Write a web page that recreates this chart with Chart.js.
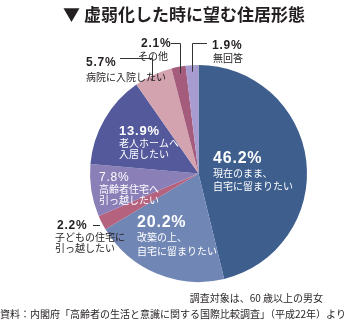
<!DOCTYPE html>
<html>
<head>
<meta charset="utf-8">
<script src="https://cdn.jsdelivr.net/npm/chart.js@4.4.1/dist/chart.umd.min.js"></script>
<style>
  html, body { margin: 0; padding: 0; background: #fff; }
  #wrap { width: 350px; height: 325px; position: relative; }
</style>
</head>
<body>
<div id="wrap"><canvas id="pie"></canvas></div>
<script>
// 回答（時計回り、12時の位置から）
const categories = [
    "現在のまま、自宅に留まりたい",
    "改築の上、自宅に留まりたい",
    "子どもの住宅に引っ越したい",
    "高齢者住宅へ引っ越したい",
    "老人ホームへ入居したい",
    "病院に入院したい",
    "その他",
    "無回答"
];
const shares = [46.2, 20.2, 2.2, 7.8, 13.9, 5.7, 2.1, 1.9];
const sliceColors = ["#3e5f8e", "#7086b5", "#b5627f", "#8b7fb8", "#54599c", "#d3a4b0", "#a45b7c", "#a89bd0"];

const JP = '"Noto Sans CJK JP", "Noto Sans", sans-serif';
const NUM = '"Liberation Sans", Arial, sans-serif';

function txt(c, s, x, y, font, color, align) {
    c.font = font;
    c.fillStyle = color;
    c.textAlign = align || "left";
    c.textBaseline = "middle";
    c.fillText(s, x, y);
}

// 数字の後ろの「%」を少し間をあけて描く
function pct(c, v, x, y, size, bold, color) {
    const w = bold ? "bold " : "";
    c.font = w + size + "px " + NUM;
    c.fillStyle = color;
    c.textAlign = "left";
    c.textBaseline = "middle";
    let cx = x;
    for (const ch of v.toFixed(1) + "%") {
        c.fillText(ch, cx, y);
        cx += c.measureText(ch).width + 0.8;
    }
    return cx;
}

const labelsPlugin = {
    id: "labels",
    afterDraw(chart) {
        const c = chart.ctx;
        const arcs = chart.getDatasetMeta(0).data;
        c.save();

        // タイトル
        txt(c, "▼ 虚弱化した時に望む住居形態", 184, 15, "bold 17px " + JP, "#231f20", "center");

        // 円の中のラベル
        pct(c, shares[0], 213, 159, 16, true, "#fff");
        txt(c, "現在のまま、", 213, 173, "10px " + JP, "#fff");
        txt(c, "自宅に留まりたい", 213, 186, "10px " + JP, "#fff");

        pct(c, shares[1], 137, 223, 16, true, "#fff");
        txt(c, "改築の上、", 137, 237, "10px " + JP, "#fff");
        txt(c, "自宅に留まりたい", 137, 251, "10px " + JP, "#fff");

        pct(c, shares[3], 99, 178, 12, false, "#fff");
        txt(c, "高齢者住宅へ", 99, 189, "10px " + JP, "#fff");
        txt(c, "引っ越したい", 99, 200, "10px " + JP, "#fff");

        pct(c, shares[4], 119, 131, 13, true, "#fff");
        txt(c, "老人ホームへ", 119, 143, "10px " + JP, "#fff");
        txt(c, "入居したい", 119, 154, "10px " + JP, "#fff");

        // 円の外のラベル
        const ink = "#231f20";
        pct(c, shares[2], 57, 226, 12, true, ink);
        txt(c, "子どもの住宅に", 55, 237, "10px " + JP, ink);
        txt(c, "引っ越したい", 55, 248, "10px " + JP, ink);

        pct(c, shares[5], 86, 63, 12, true, ink);
        txt(c, "病院に入院したい", 86, 77, "10px " + JP, ink);

        pct(c, shares[6], 141, 44, 12, true, ink);
        txt(c, "その他", 138, 56, "10px " + JP, ink);

        pct(c, shares[7], 212, 46, 12, true, ink);
        txt(c, "無回答", 213, 58, "10px " + JP, ink);

        // 引き出し線（小さい扇形の中点へ）
        const mid = (i, f) => {
            const a = arcs[i];
            const ang = (a.startAngle + a.endAngle) / 2;
            const r = a.outerRadius * f;
            return [a.x + Math.cos(ang) * r, a.y + Math.sin(ang) * r];
        };
        c.strokeStyle = "#333";
        c.lineWidth = 1;
        const p6 = mid(6, 0.94);
        const p7 = mid(7, 0.94);
        const p5 = mid(5, 0.93);
        c.beginPath();
        c.moveTo(171, 43.5); c.lineTo(Math.round(p6[0]) + 0.5, 43.5); c.lineTo(Math.round(p6[0]) + 0.5, p6[1]);
        c.moveTo(207, 43.5); c.lineTo(Math.round(p7[0]) + 0.5, 43.5); c.lineTo(Math.round(p7[0]) + 0.5, p7[1]);
        c.moveTo(120, 58.5); c.lineTo(152.5, 58.5); c.lineTo(152.5, Math.max(p5[1] - 6, 80));
        c.moveTo(93, 225.5); c.lineTo(100, 225.5);
        c.stroke();

        // 注記
        txt(c, "調査対象は、60 歳以上の男女", 323, 298, "10px " + JP, ink, "right");
        txt(c, "資料：内閣府「高齢者の生活と意識に関する国際比較調査」（平成22年）より", 173, 314, "10px " + JP, ink, "center");

        c.restore();
    }
};

new Chart(document.getElementById("pie"), {
    type: "pie",
    data: {
        labels: categories,
        datasets: [{
            data: shares,
            backgroundColor: sliceColors,
            borderWidth: 0
        }]
    },
    options: {
        responsive: true,
        maintainAspectRatio: false,
        animation: false,
        layout: { padding: { top: 65, bottom: 43, left: 90, right: 43 } },
        plugins: {
            legend: { display: false },
            tooltip: { enabled: false }
        }
    },
    plugins: [labelsPlugin]
});
</script>
</body>
</html>
